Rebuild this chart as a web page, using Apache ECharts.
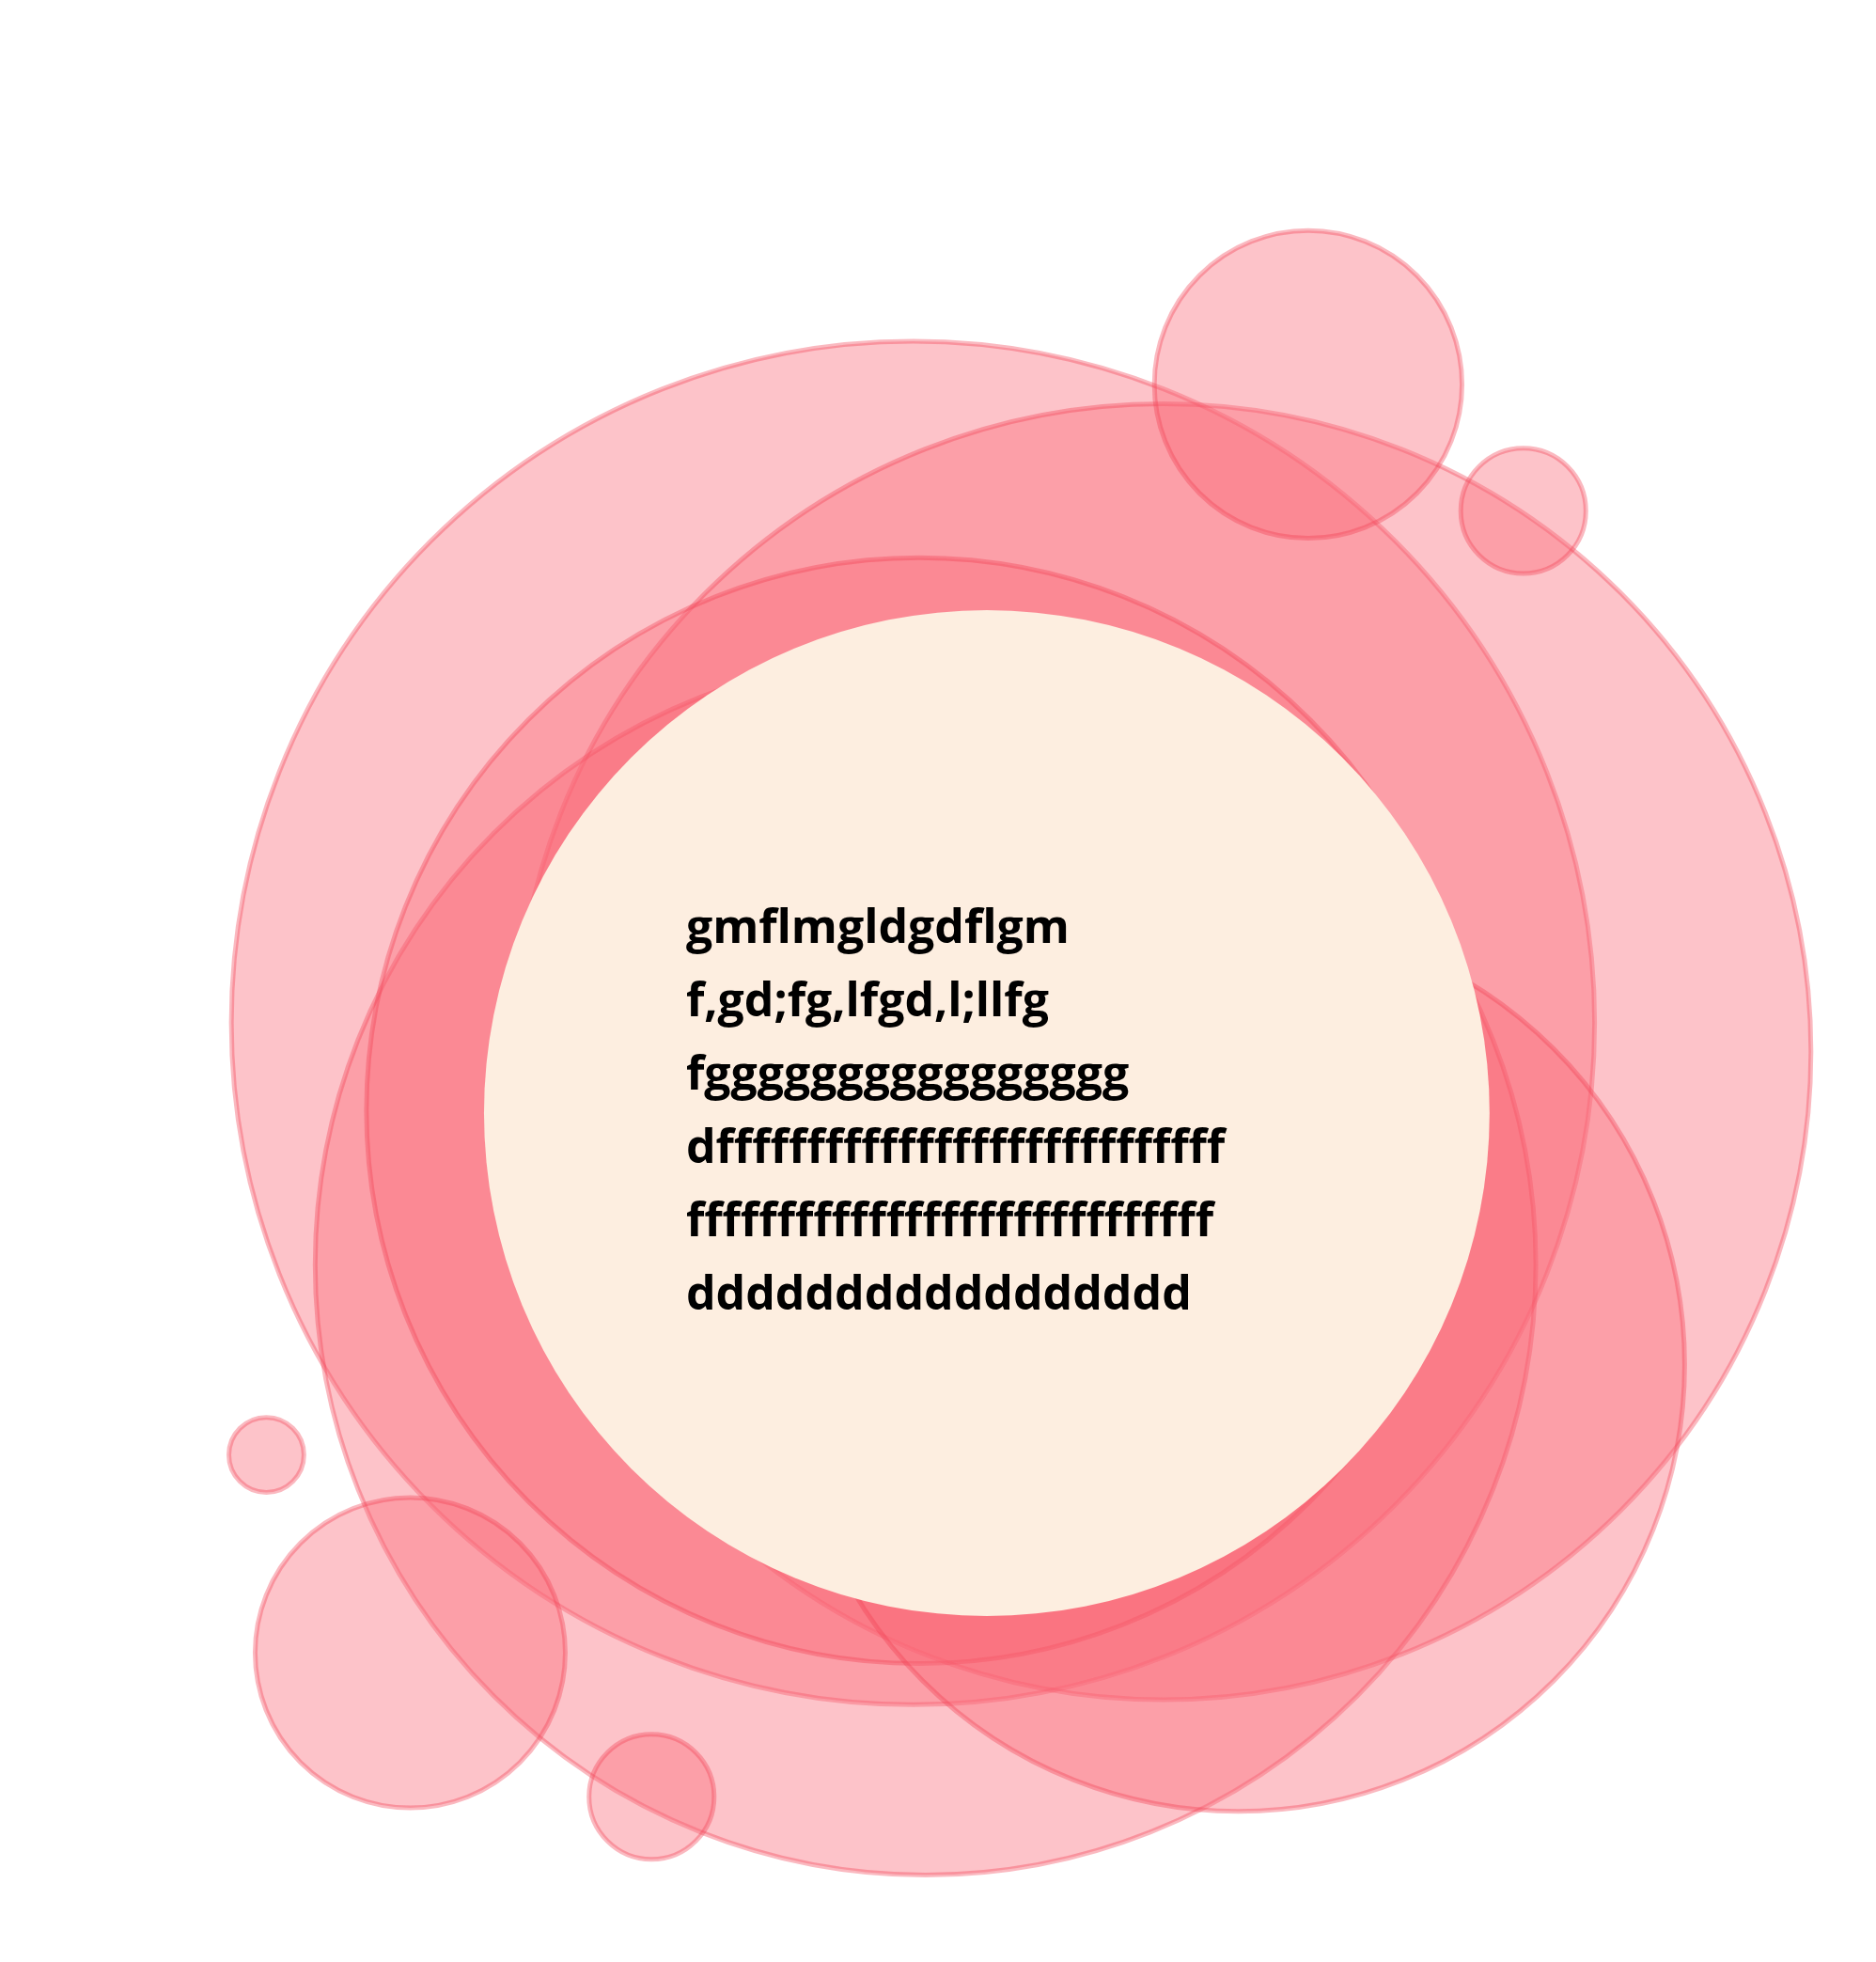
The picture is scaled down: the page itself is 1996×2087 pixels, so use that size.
<!DOCTYPE html>
<html><head><meta charset="utf-8">
<script src="https://cdn.jsdelivr.net/npm/echarts@6/dist/echarts.min.js"></script>
<style>html,body{margin:0;padding:0;background:#fff}#c{width:1996px;height:2087px}</style>
</head><body><div id="c"></div>
<script>
// bubbles: [x, y, radius] in reference units (1500 x 1567)
const bubbles = [
  [730, 817, 545],
  [930, 840, 518],
  [740, 1010, 488],
  [735, 887, 442],
  [990, 1090, 357],
  [1046, 307, 123],
  [1218, 408, 50],
  [328, 1320, 124],
  [521, 1435, 50],
  [213, 1162, 30]
];
const core = [[789, 889, 402]];
const lines = ['gmflmgldgdflgm', 'f,gd;fg,lfgd,l;llfg', 'fgggggggggggggggg',
  'dffffffffffffffffffffffffffff', 'fffffffffffffffffffffffffffff', 'ddddddddddddddddd'];

const k = 1996 / 1500;
const chart = echarts.init(document.getElementById('c'));
chart.setOption({
  animation: false,
  grid: {left: 0, right: 0, top: 0, bottom: 0},
  xAxis: {type: 'value', min: 0, max: 1500, show: false},
  yAxis: {type: 'value', min: 0, max: 1567, inverse: true, show: false},
  series: [{
    type: 'scatter',
    data: bubbles,
    symbolSize: d => d[2] * 2 * k,
    itemStyle: {
      color: 'rgba(250,105,120,0.5)',
      borderColor: 'rgba(240,60,80,0.45)',
      borderWidth: 5
    }
  }, {
    type: 'scatter',
    data: core,
    symbolSize: d => d[2] * 2 * k,
    itemStyle: {color: '#fdeee0', opacity: 1},
    label: {
      show: true,
      position: 'inside',
      formatter: lines.join('\n'),
      align: 'left',
      offset: [-320, 0],
      fontFamily: 'Open Sans',
      fontWeight: 'bold',
      fontSize: 50,
      lineHeight: 78,
      color: '#000'
    }
  }]
});
</script></body></html>
